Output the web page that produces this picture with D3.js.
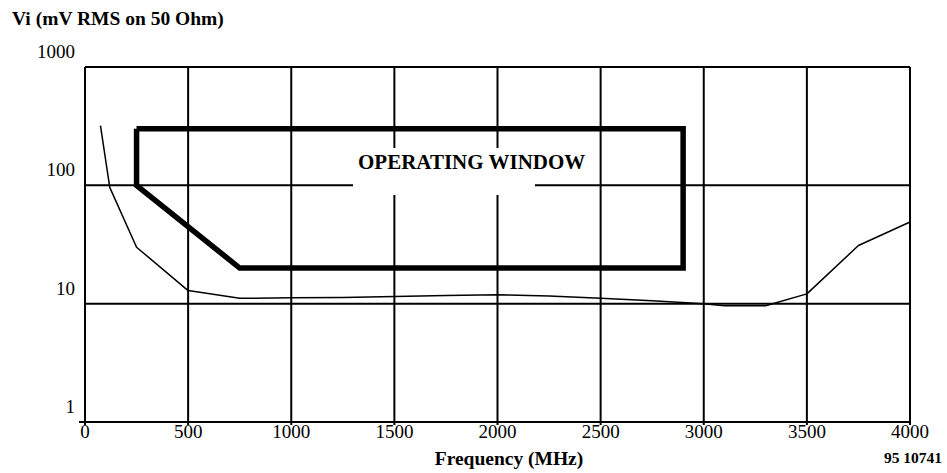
<!DOCTYPE html>
<html>
<head>
<meta charset="utf-8">
<script src="https://cdn.jsdelivr.net/npm/d3@7"></script>
<style>
  body { margin: 0; background: #fff; }
  text { font-family: "Liberation Serif", "DejaVu Serif", serif; fill: #000; }
</style>
</head>
<body>
<div id="chart"></div>
<script>
// input sensitivity curve (MHz, mV RMS)
const freq = [75, 120, 250, 500, 750, 1000, 1250, 1500, 1750, 2000, 2250, 2500, 2750, 3000, 3100, 3300, 3500, 3750, 4000];
const sens = [320, 96, 30, 12.9, 11.1, 11.2, 11.3, 11.5, 11.7, 11.9, 11.6, 11.1, 10.6, 10, 9.6, 9.6, 12.1, 31, 49];

// operating window outline (MHz, mV RMS)
const winFreq = [250, 250, 750, 2900, 2900, 250];
const winVal = [300, 100, 20, 20, 300, 300];

const xTicks = [0, 500, 1000, 1500, 2000, 2500, 3000, 3500, 4000];
const yTicks = [1, 10, 100, 1000];

const width = 947, height = 473;
const margin = { left: 85, right: 37, top: 67, bottom: 51 };

const svg = d3.select('#chart')
    .append('svg')
    .attr('width', width)
    .attr('height', height);

const x = d3.scaleLinear()
    .domain([0, 4000])
    .range([margin.left, width - margin.right]);
const y = d3.scaleLog()
    .domain([1, 1000])
    .range([height - margin.bottom, margin.top]);

// grid
let grid = svg.append('g').classed('grid', true)
    .attr('stroke', '#000')
    .attr('stroke-width', 2);
grid.selectAll('.vline')
    .data(xTicks)
    .enter()
    .append('line')
    .classed('vline', true)
    .attr('x1', d => x(d))
    .attr('x2', d => x(d))
    .attr('y1', y(1000))
    .attr('y2', y(1) + 3);
grid.selectAll('.hline')
    .data(yTicks)
    .enter()
    .append('line')
    .classed('hline', true)
    .attr('x1', d => d === 1 ? x(0) - 6 : x(0))
    .attr('x2', x(4000))
    .attr('y1', d => y(d))
    .attr('y2', d => y(d));

// white patch behind the window label
svg.append('rect')
    .attr('x', 353)
    .attr('y', 148)
    .attr('width', 182)
    .attr('height', 47)
    .attr('fill', '#fff');

// curve
let line = d3.line()
    .x(d => x(d[0]))
    .y(d => y(d[1]));
svg.append('path')
    .datum(d3.zip(freq, sens))
    .attr('d', line)
    .attr('fill', 'none')
    .attr('stroke', '#000')
    .attr('stroke-width', 1.5)
    .attr('stroke-linejoin', 'round');

// operating window
svg.append('path')
    .datum(d3.zip(winFreq, winVal))
    .attr('d', line)
    .attr('fill', 'none')
    .attr('stroke', '#000')
    .attr('stroke-width', 5.5)
    .attr('stroke-linejoin', 'miter');

svg.append('text')
    .attr('x', 358)
    .attr('y', 169)
    .style('font-weight', 'bold')
    .style('font-size', '21px')
    .text('OPERATING WINDOW');

// tick labels
svg.selectAll('.xlabel')
    .data(xTicks)
    .enter()
    .append('text')
    .classed('xlabel', true)
    .attr('x', d => x(d))
    .attr('y', 438)
    .style('text-anchor', 'middle')
    .style('font-size', '19px')
    .text(d => d);
svg.selectAll('.ylabel')
    .data(yTicks)
    .enter()
    .append('text')
    .classed('ylabel', true)
    .attr('x', 75)
    .attr('y', d => y(d) - 9)
    .style('text-anchor', 'end')
    .style('font-size', '19px')
    .text(d => d);

// titles
svg.append('text')
    .attr('x', 12)
    .attr('y', 25)
    .style('font-weight', 'bold')
    .style('font-size', '19.5px')
    .text('Vi  (mV RMS on 50 Ohm)');
svg.append('text')
    .attr('x', 509)
    .attr('y', 465)
    .style('text-anchor', 'middle')
    .style('font-weight', 'bold')
    .style('font-size', '19.5px')
    .text('Frequency (MHz)');
svg.append('text')
    .attr('x', 942)
    .attr('y', 463)
    .style('text-anchor', 'end')
    .style('font-weight', 'bold')
    .style('font-size', '15.5px')
    .text('95 10741');
</script>
</body>
</html>
